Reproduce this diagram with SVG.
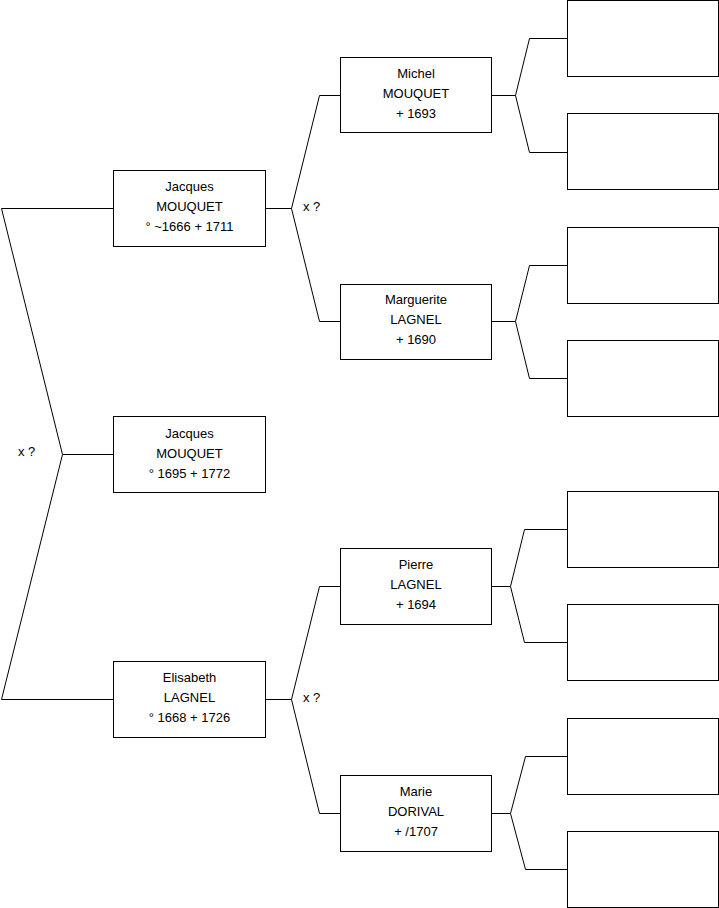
<svg xmlns="http://www.w3.org/2000/svg" width="719" height="908" viewBox="0 0 719 908">
<style>
.box{fill:#fff;stroke:#000;stroke-width:1}
.ln{fill:none;stroke:#000;stroke-width:1}
text{font-family:"Liberation Sans",Arial,sans-serif;font-size:13px;fill:#000;text-anchor:middle}
.lbl{text-anchor:start}
</style>
<rect width="719" height="908" fill="#fff"/>
<g id="connectors">
<path class="ln" d="M113.5,208.5 H1.5 L62.5,454.5 L1.5,699.5 H113.5 M62.5,454.5 H113.5"/>
<path class="ln" d="M265.5,208.5 H291.5 L319.5,95.5 H340.5 M291.5,208.5 L319.5,321.5 H340.5"/>
<path class="ln" d="M265.5,699.5 H291.5 L319.5,586.5 H340.5 M291.5,699.5 L319.5,813.5 H340.5"/>
<path class="ln" d="M491.5,95.5 H515.5 L529.5,38.5 H567.5 M515.5,95.5 L529.5,152.5 H567.5"/>
<path class="ln" d="M491.5,321.5 H515.5 L529.5,265.5 H567.5 M515.5,321.5 L529.5,378.5 H567.5"/>
<path class="ln" d="M491.5,586.5 H510.5 L524.5,529.5 H567.5 M510.5,586.5 L524.5,642.5 H567.5"/>
<path class="ln" d="M491.5,813.5 H510.5 L525.5,756.5 H567.5 M510.5,813.5 L525.5,869.5 H567.5"/>
<text class="lbl" x="18" y="456">x ?</text>
<text class="lbl" x="303" y="211">x ?</text>
<text class="lbl" x="303" y="702">x ?</text>
</g>
<g id="n-jacques-pere">
<rect class="box" x="113.5" y="170.5" width="152" height="76"/>
<text x="189.5" y="191">Jacques</text>
<text x="189.5" y="211">MOUQUET</text>
<text x="189.5" y="231">° ~1666 + 1711</text>
</g>
<g id="n-jacques">
<rect class="box" x="113.5" y="416.5" width="152" height="76"/>
<text x="189.5" y="438">Jacques</text>
<text x="189.5" y="458">MOUQUET</text>
<text x="189.5" y="478">° 1695 + 1772</text>
</g>
<g id="n-elisabeth">
<rect class="box" x="113.5" y="661.5" width="152" height="76"/>
<text x="189.5" y="682">Elisabeth</text>
<text x="189.5" y="702">LAGNEL</text>
<text x="189.5" y="722">° 1668 + 1726</text>
</g>
<g id="n-michel">
<rect class="box" x="340.5" y="57.5" width="151" height="75"/>
<text x="416" y="78">Michel</text>
<text x="416" y="98">MOUQUET</text>
<text x="416" y="118">+ 1693</text>
</g>
<g id="n-marguerite">
<rect class="box" x="340.5" y="284.5" width="151" height="75"/>
<text x="416" y="304">Marguerite</text>
<text x="416" y="324">LAGNEL</text>
<text x="416" y="344">+ 1690</text>
</g>
<g id="n-pierre">
<rect class="box" x="340.5" y="548.5" width="151" height="76"/>
<text x="416" y="569">Pierre</text>
<text x="416" y="589">LAGNEL</text>
<text x="416" y="609">+ 1694</text>
</g>
<g id="n-marie">
<rect class="box" x="340.5" y="775.5" width="151" height="76"/>
<text x="416" y="796">Marie</text>
<text x="416" y="816">DORIVAL</text>
<text x="416" y="836">+ /1707</text>
</g>
<g id="n-e1"><rect class="box" x="567.5" y="0.5" width="151" height="76"/></g>
<g id="n-e2"><rect class="box" x="567.5" y="113.5" width="151" height="76"/></g>
<g id="n-e3"><rect class="box" x="567.5" y="227.5" width="151" height="76"/></g>
<g id="n-e4"><rect class="box" x="567.5" y="340.5" width="151" height="76"/></g>
<g id="n-e5"><rect class="box" x="567.5" y="491.5" width="151" height="76"/></g>
<g id="n-e6"><rect class="box" x="567.5" y="604.5" width="151" height="76"/></g>
<g id="n-e7"><rect class="box" x="567.5" y="718.5" width="151" height="76"/></g>
<g id="n-e8"><rect class="box" x="567.5" y="831.5" width="151" height="76"/></g>
</svg>
